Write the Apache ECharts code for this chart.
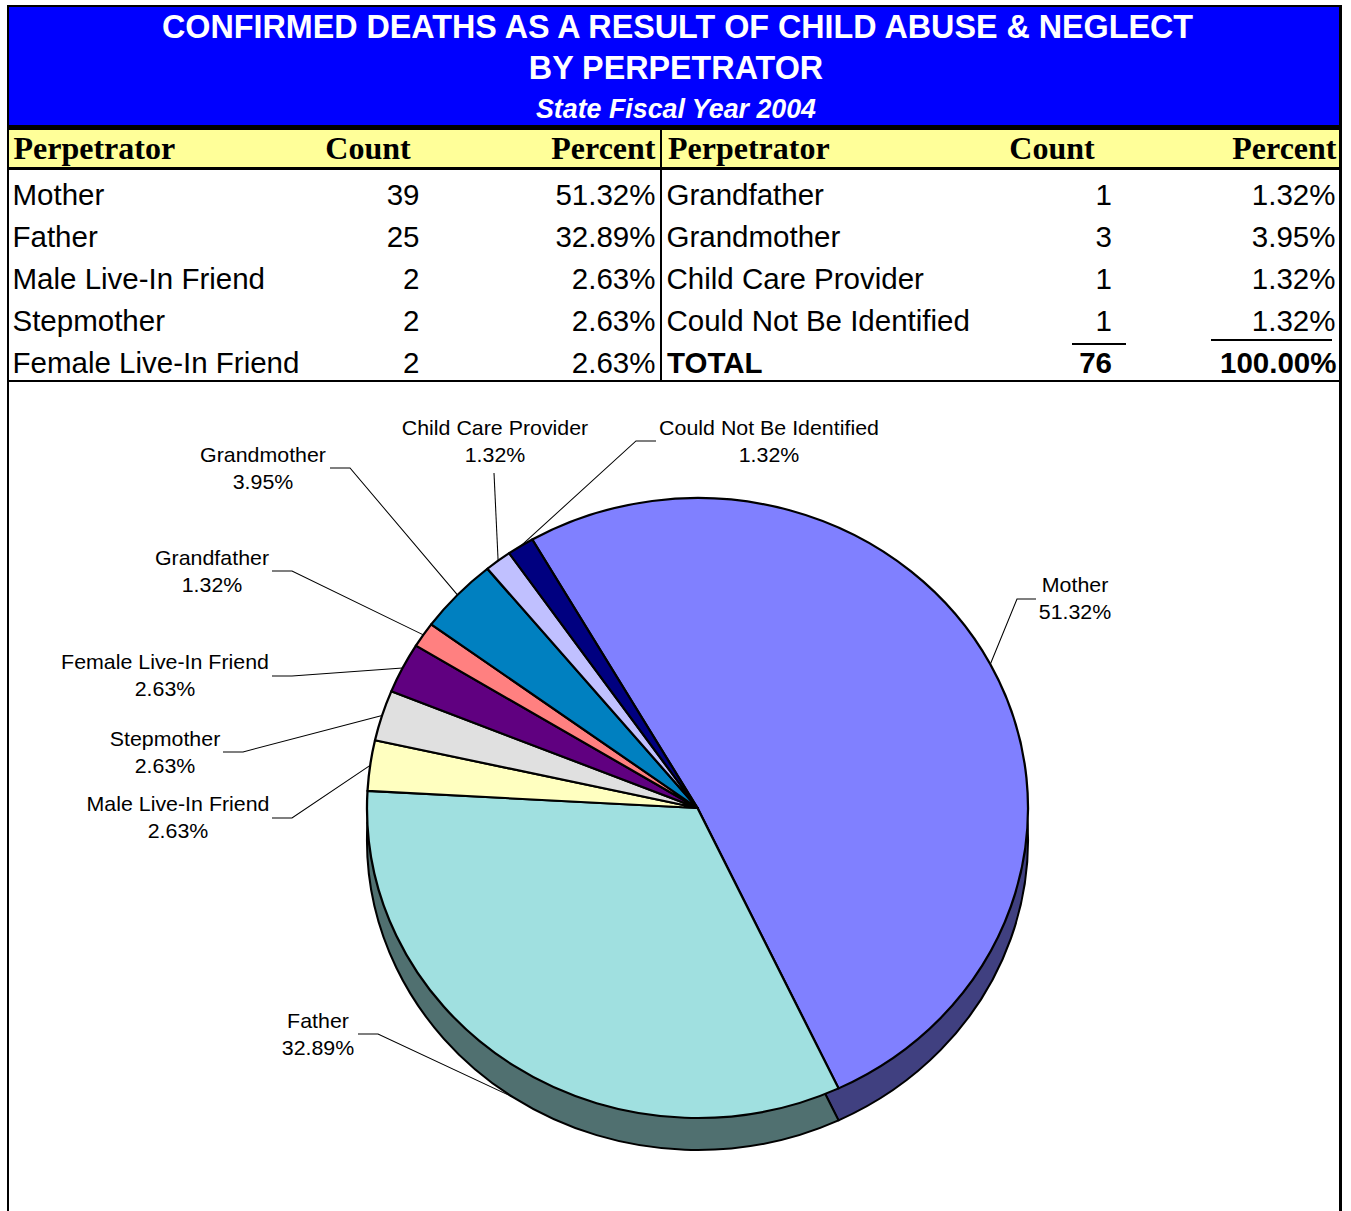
<!DOCTYPE html>
<html>
<head>
<meta charset="utf-8">
<script src="https://cdn.jsdelivr.net/npm/echarts@6/dist/echarts.min.js"></script>
<style>
html,body{margin:0;padding:0;background:#fff;}
#page{position:relative;width:1351px;height:1211px;overflow:hidden;background:#fff;}
#chart{position:absolute;left:0;top:0;width:1351px;height:1211px;}
#overlay{position:absolute;left:0;top:0;width:1351px;height:1211px;pointer-events:none;}
</style>
</head>
<body>
<div id="page">
  <div id="chart"></div>
  <div id="overlay"></div>
</div>
<script>
// ---------------- data ----------------
const titleLines = ['CONFIRMED DEATHS AS A RESULT OF CHILD ABUSE & NEGLECT', 'BY PERPETRATOR', 'State Fiscal Year 2004'];
const headerLabels = ['Perpetrator', 'Count', 'Percent'];
const perpetrators = ['Mother', 'Father', 'Male Live-In Friend', 'Stepmother', 'Female Live-In Friend',
                      'Grandfather', 'Grandmother', 'Child Care Provider', 'Could Not Be Identified'];
const counts = [39, 25, 2, 2, 2, 1, 3, 1, 1];
const totalLabel = 'TOTAL';

// ---------------- styles ----------------
const sliceColors = ['#8080FF', '#A0E0E0', '#FFFFC0', '#E0E0E0', '#600080', '#FF8080', '#0080C0', '#C0C0FF', '#000080'];
const sideColors  = ['#404080', '#507070', '#808060', '#707070', '#300040', '#804040', '#004060', '#606080', '#000040'];

// label placement (page pixels): text centre, elbow of leader, end of leader
const labelPlacement = [
  {x: 1075, y: 598,   elbow: [1017, 599], end: [1036, 599]},
  {x: 318,  y: 1034,  elbow: [378, 1034], end: [358, 1034]},
  {x: 178,  y: 817,   elbow: [292, 818],  end: [272, 818]},
  {x: 165,  y: 752,   elbow: [243, 752],  end: [223, 752]},
  {x: 165,  y: 675,   elbow: [292, 676],  end: [272, 676]},
  {x: 212,  y: 571,   elbow: [292, 571],  end: [272, 571]},
  {x: 263,  y: 468,   elbow: [350, 468],  end: [330, 468]},
  {x: 495,  y: 441.5, elbow: [494, 473],  end: [494, 473]},
  {x: 769,  y: 441.5, elbow: [636, 441],  end: [656, 441]}
];

const SANS = '"Liberation Sans", Arial, sans-serif';
const SERIF = '"Liberation Serif", "Times New Roman", serif';

const total = counts.reduce((a, b) => a + b, 0);
const pct = v => (v / total * 100).toFixed(2) + '%';

// ---------------- table (HTML overlay) ----------------
const overlay = document.getElementById('overlay');
function box(l, t, w, h, c) {
  const d = document.createElement('div');
  d.style.cssText = `position:absolute;left:${l}px;top:${t}px;width:${w}px;height:${h}px;background:${c};`;
  overlay.appendChild(d);
}
function text(str, x, baseline, o) {
  const d = document.createElement('div');
  const F = o.size;
  const k = o.serif ? 0.8375 : 0.8465;
  const W = 2000;
  let left = o.align === 'left' ? x : (o.align === 'right' ? x - W : x - W / 2);
  d.style.cssText = `position:absolute;white-space:nowrap;left:${left}px;top:${baseline - k * F}px;width:${W}px;` +
    `height:${F}px;line-height:${F}px;font-size:${F}px;text-align:${o.align};font-family:${o.serif ? SERIF : SANS};` +
    `font-weight:${o.bold ? 'bold' : 'normal'};font-style:${o.italic ? 'italic' : 'normal'};color:${o.color || '#000'};`;
  d.textContent = str;
  overlay.appendChild(d);
}

// frame and fills
box(9, 7, 1330, 118, '#0000FF');      // banner
box(9, 130, 1330, 37, '#FFFF99');     // header band
box(7, 5, 1335, 2, '#000');           // top border
box(7, 5, 2, 1210, '#000');           // left border
box(1339, 5, 3, 1210, '#000');        // right border
box(7, 125, 1335, 5, '#000');         // below banner
box(7, 167, 1335, 3, '#000');         // below header
box(660, 128, 2, 253, '#000');        // column divider
box(7, 380, 1335, 2, '#000');         // table bottom

// title
text(titleLines[0], 677.5, 38, {align: 'center', size: 32.3, bold: true, color: '#fff'});
text(titleLines[1], 676, 79, {align: 'center', size: 32.3, bold: true, color: '#fff'});
text(titleLines[2], 676, 118.5, {align: 'center', size: 26.8, bold: true, italic: true, color: '#fff'});

// headers
const hb = 159;
text(headerLabels[0], 13.5, hb, {align: 'left', size: 32, serif: true, bold: true});
text(headerLabels[1], 368, hb, {align: 'center', size: 32, serif: true, bold: true});
text(headerLabels[2], 655.5, hb, {align: 'right', size: 32, serif: true, bold: true});
text(headerLabels[0], 668, hb, {align: 'left', size: 32, serif: true, bold: true});
text(headerLabels[1], 1052, hb, {align: 'center', size: 32, serif: true, bold: true});
text(headerLabels[2], 1336.5, hb, {align: 'right', size: 32, serif: true, bold: true});

// rows
const FS = 29.5;
const rowBase = i => 204.5 + 42 * i;
const leftRows = 5;
for (let i = 0; i < perpetrators.length; i++) {
  const col = i < leftRows ? 0 : 1;
  const r = col === 0 ? i : i - leftRows;
  const b = rowBase(r);
  if (col === 0) {
    text(perpetrators[i], 12.5, b, {align: 'left', size: FS});
    text(String(counts[i]), 419.5, b, {align: 'right', size: FS});
    text(pct(counts[i]), 655.5, b, {align: 'right', size: FS});
  } else {
    text(perpetrators[i], 666.5, b, {align: 'left', size: FS});
    text(String(counts[i]), 1112, b, {align: 'right', size: FS});
    text(pct(counts[i]), 1335.5, b, {align: 'right', size: FS});
  }
}
{
  const b = rowBase(4);
  text(totalLabel, 667, b, {align: 'left', size: FS, bold: true});
  text(String(total), 1112, b, {align: 'right', size: FS, bold: true});
  text(pct(total), 1336.5, b, {align: 'right', size: FS, bold: true});
  box(1072, 343, 54, 2, '#000');
  box(1211, 339, 121, 2, '#000');
}

// ---------------- pie (ECharts) ----------------
const CX = 697.5, CY = 808, R = 320;
const SX = 330.5 / R, SY = 310 / R;     // 3-D tilt: slight horizontal stretch, vertical squash
const DEPTH = 32;                        // page px
const START = 120;
const chartEl = document.getElementById('chart');
chartEl.style.transformOrigin = CX + 'px ' + CY + 'px';
chartEl.style.transform = `scale(${SX}, ${SY})`;

const toCX = x => CX + (x - CX) / SX;
const toCY = y => CY + (y - CY) / SY;
const D = DEPTH / SY;

function edgePoint(i) {
  let cum = 0;
  for (let k = 0; k < i; k++) cum += counts[k];
  const a = (START - (cum + counts[i] / 2) / total * 360) * Math.PI / 180;
  let y = CY - R * Math.sin(a);
  if (Math.sin(a) < 0) y += D;
  return [CX + R * Math.cos(a), y];
}

const chart = echarts.init(chartEl, null, {renderer: 'svg', width: 1351, height: 1211});
chart.setOption({
  animation: false,
  series: [
    {
      type: 'pie', name: 'side',
      center: [CX, CY + D], radius: R, startAngle: START, clockwise: true,
      silent: true, z: 1,
      data: perpetrators.map((n, i) => ({name: n, value: counts[i], itemStyle: {color: sideColors[i]}})),
      itemStyle: {borderColor: '#000', borderWidth: 2},
      label: {show: false}, labelLine: {show: false},
      emphasis: {disabled: true}
    },
    {
      type: 'pie', name: 'top',
      center: [CX, CY], radius: R, startAngle: START, clockwise: true,
      silent: true, z: 2, avoidLabelOverlap: false,
      data: perpetrators.map((n, i) => ({name: n, value: counts[i], itemStyle: {color: sliceColors[i]}})),
      itemStyle: {borderColor: '#000', borderWidth: 2.2},
      label: {
        show: true, position: 'outside',
        formatter: p => p.name + '\n' + pct(p.value),
        fontFamily: SANS, fontSize: 20.7, lineHeight: 27 / SY, color: '#000'
      },
      labelLine: {show: true, length: 10, length2: 10, lineStyle: {color: '#000', width: 1}},
      labelLayout: function (p) {
        const L = labelPlacement[p.dataIndex];
        const e = edgePoint(p.dataIndex);
        return {
          x: toCX(L.x), y: toCY(L.y), align: 'center', verticalAlign: 'middle',
          labelLinePoints: [e, [toCX(L.elbow[0]), toCY(L.elbow[1])], [toCX(L.end[0]), toCY(L.end[1])]]
        };
      },
      emphasis: {disabled: true}
    }
  ]
});
</script>
</body>
</html>
